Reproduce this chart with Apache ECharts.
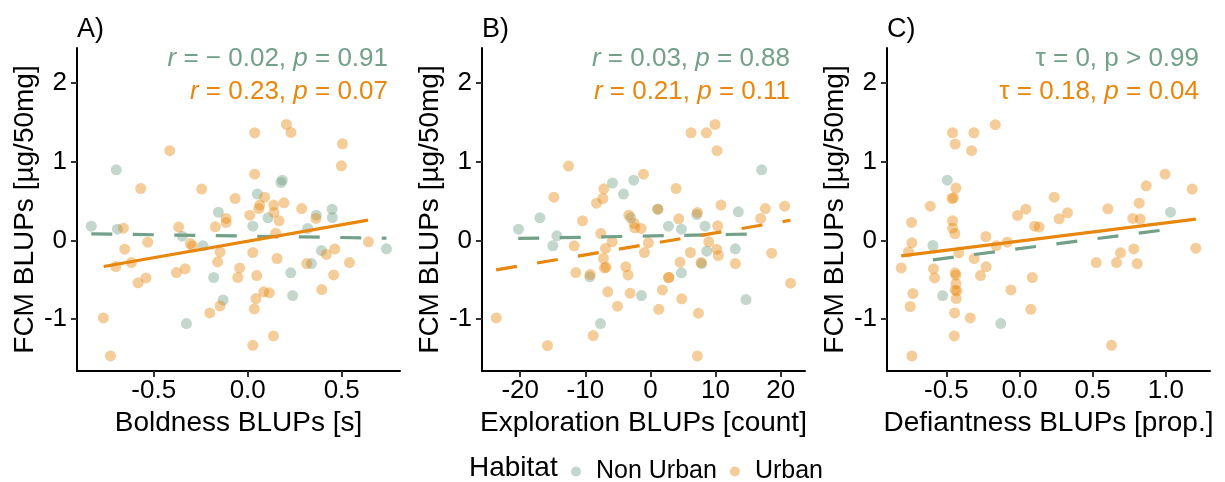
<!DOCTYPE html>
<html>
<head>
<meta charset="utf-8">
<script src="https://cdn.jsdelivr.net/npm/echarts@6/dist/echarts.min.js"></script>
<style>
  html, body {margin: 0; padding: 0; background: #fff;}
  #chart {width: 1225px; height: 482px;}
</style>
</head>
<body>
<div id="chart"></div>
<script>
// --- data ---
const nonUrbanA = [[-0.699,0.895],[-0.832,0.180],[-0.693,0.142],[-0.348,0.053],[-0.238,-0.069],[-0.156,0.358],[-0.181,-0.471],[-0.131,-0.755],[-0.326,-1.056],[0.051,0.587],[0.027,0.180],[0.108,0.286],[0.177,0.734],[0.184,0.763],[0.229,-0.412],[0.239,-0.700],[0.319,0.151],[0.365,0.320],[0.392,-0.129],[0.339,-0.294],[0.449,0.396],[0.450,0.290],[0.738,-0.107]];
const urbanA = [[0.206,1.471],[0.230,1.369],[0.037,1.365],[0.504,1.225],[-0.415,1.137],[0.498,0.946],[0.037,0.840],[-0.569,0.658],[-0.245,0.650],[-0.067,0.531],[0.090,0.548],[0.064,0.447],[0.059,0.404],[0.138,0.447],[0.193,0.476],[0.287,0.404],[0.140,0.354],[0.011,0.320],[0.167,0.248],[-0.115,0.278],[-0.115,0.227],[-0.172,0.172],[-0.661,0.155],[-0.367,0.168],[0.363,0.278],[0.149,0.091],[-0.305,-0.040],[-0.294,-0.070],[-0.532,-0.023],[-0.654,-0.112],[-0.147,-0.150],[0.027,-0.154],[0.642,-0.019],[0.463,-0.108],[0.418,-0.179],[0.156,-0.230],[-0.702,-0.332],[-0.619,-0.281],[-0.160,-0.273],[-0.043,-0.349],[0.314,-0.294],[0.541,-0.281],[-0.379,-0.408],[-0.333,-0.361],[0.048,-0.446],[-0.053,-0.471],[-0.541,-0.476],[-0.583,-0.539],[0.457,-0.438],[0.085,-0.653],[0.115,-0.666],[0.044,-0.738],[0.394,-0.624],[-0.147,-0.831],[-0.202,-0.920],[0.035,-0.870],[-0.768,-0.984],[0.137,-1.212],[0.027,-1.331],[-0.730,-1.466]];
const nonUrbanB = [[-20.26,0.142],[-16.98,0.286],[-14.37,0.058],[-14.99,-0.069],[-5.83,0.727],[-4.14,0.587],[-2.56,0.763],[-3.02,0.286],[-9.31,-0.463],[-7.67,-1.056],[-1.38,-0.700],[1.13,0.396],[2.76,0.180],[4.76,0.142],[7.11,0.328],[8.39,0.180],[8.64,-0.137],[7.88,-0.294],[4.76,-0.412],[13.50,0.362],[13.04,-0.107],[14.68,-0.751],[17.08,0.895]];
const urbanB = [[9.92,1.471],[6.24,1.365],[8.59,1.365],[10.23,1.137],[-12.58,0.942],[-1.07,0.840],[-7.16,0.654],[-7.31,0.531],[-8.29,0.472],[-14.83,0.548],[3.94,0.658],[10.84,0.447],[17.65,0.404],[20.61,0.434],[-10.43,0.248],[-3.32,0.320],[-2.51,0.214],[-2.40,0.159],[-1.43,0.151],[-7.62,0.087],[1.13,0.396],[4.35,0.273],[7.21,0.354],[10.33,0.185],[16.93,0.278],[-11.71,-0.069],[-5.88,-0.019],[-6.91,-0.103],[-0.31,-0.031],[-0.92,-0.154],[-7.21,-0.230],[6.14,-0.154],[8.95,-0.019],[10.18,-0.112],[10.43,-0.192],[18.62,-0.163],[-11.46,-0.408],[-9.26,-0.433],[-7.06,-0.349],[-6.80,-0.340],[-3.79,-0.336],[-3.43,-0.438],[4.55,-0.277],[7.77,-0.281],[13.04,-0.294],[21.53,-0.543],[2.81,-0.471],[2.81,-0.471],[1.84,-0.628],[-6.55,-0.653],[-3.12,-0.670],[4.81,-0.742],[-5.06,-0.835],[1.28,-0.874],[7.37,-0.924],[-23.68,-0.984],[-8.80,-1.208],[-15.81,-1.335],[7.21,-1.466]];
const nonUrbanC = [[-0.494,0.764],[-0.592,-0.065],[-0.526,-0.700],[-0.128,-1.056],[1.032,0.358]];
const urbanC = [[-0.458,1.365],[-0.312,1.365],[-0.166,1.467],[-0.440,1.221],[-0.328,1.137],[-0.435,0.663],[-0.451,0.540],[-0.462,0.531],[-0.610,0.434],[-0.738,0.227],[-0.458,0.248],[-0.458,0.155],[-0.442,0.087],[-0.230,0.049],[-0.736,-0.031],[-0.759,-0.146],[-0.415,-0.158],[-0.159,-0.069],[-0.084,-0.023],[-0.014,0.316],[0.043,0.396],[0.103,0.180],[0.134,0.168],[0.237,0.548],[0.271,0.273],[0.328,0.349],[0.604,0.400],[0.818,0.472],[0.866,0.692],[0.995,0.840],[1.180,0.650],[0.774,0.278],[0.825,0.270],[-0.809,-0.349],[-0.588,-0.361],[-0.581,-0.476],[-0.310,-0.230],[-0.228,-0.336],[-0.267,-0.446],[0.087,-0.471],[-0.440,-0.412],[-0.435,-0.442],[-0.435,-0.548],[-0.440,-0.632],[-0.428,-0.641],[-0.433,-0.738],[-0.059,-0.628],[-0.729,-0.675],[-0.747,-0.839],[-0.444,-0.920],[-0.337,-0.984],[0.077,-0.874],[0.524,-0.281],[0.663,-0.281],[0.690,-0.158],[0.781,-0.108],[0.804,-0.294],[1.205,-0.099],[-0.446,-1.212],[-0.736,-1.466],[0.629,-1.331]];

// fitted lines (end points)
const fitNonUrbanA = [[-0.832,0.083],[0.738,0.028]];
const fitUrbanA = [[-0.766,-0.332],[0.640,0.256]];
const fitNonUrbanB = [[-20.3,0.024],[17.1,0.083]];
const fitUrbanB = [[-23.7,-0.374],[21.5,0.255]];
const fitNonUrbanC = [[-0.592,-0.247],[1.032,0.143]];
const fitUrbanC = [[-0.809,-0.196],[1.205,0.269]];

const yTicks = [-1, 0, 1, 2];
const xTicksA = [-0.5, 0, 0.5];
const xTicksB = [-20, -10, 0, 10, 20];
const xTicksC = [-0.5, 0, 0.5, 1];

const tags = ['A)', 'B)', 'C)'];
const xTitles = ['Boldness BLUPs [s]', 'Exploration BLUPs [count]', 'Defiantness BLUPs [prop.]'];
const statsNonUrban = ['{i|r} = − 0.02, {i|p} = 0.91', '{i|r} = 0.03, {i|p} = 0.88', 'τ = 0, p > 0.99'];
const statsUrban = ['{i|r} = 0.23, {i|p} = 0.07', '{i|r} = 0.21, {i|p} = 0.11', 'τ = 0.18, {i|p} = 0.04'];

const GREEN = '#73A089';
const ORANGE = '#E8870E';
const FONT = 'Liberation Sans, Arial, Helvetica, sans-serif';

const chart = echarts.init(document.getElementById('chart'));

const panels = [
  {left: 77, right: 400, xMin: -0.908, xMax: 0.81, ticks: xTicksA, fmt: v => v.toFixed(1),
   nu: nonUrbanA, u: urbanA, fitNu: fitNonUrbanA, fitU: fitUrbanA, dashU: false, textRight: 388},
  {left: 482, right: 805, xMin: -25.87, xMax: 23.74, ticks: xTicksB, fmt: v => String(v),
   nu: nonUrbanB, u: urbanB, fitNu: fitNonUrbanB, fitU: fitUrbanB, dashU: true, textRight: 790},
  {left: 887, right: 1210, xMin: -0.906, xMax: 1.302, ticks: xTicksC, fmt: v => v.toFixed(1),
   nu: nonUrbanC, u: urbanC, fitNu: fitNonUrbanC, fitU: fitUrbanC, dashU: false, textRight: 1199}
];

const TOP = 48, BOTTOM = 371;
const grid = [], xAxis = [], yAxis = [], series = [], graphic = [];

panels.forEach((p, i) => {
  grid.push({left: p.left, top: TOP, width: p.right - p.left, height: BOTTOM - TOP});
  xAxis.push({
    type: 'value', gridIndex: i, min: p.xMin, max: p.xMax,
    name: xTitles[i], nameLocation: 'middle', nameGap: 36,
    nameTextStyle: {fontSize: 28, color: '#000', fontFamily: FONT},
    axisLine: {show: true, onZero: false, lineStyle: {color: '#000', width: 2}},
    axisTick: {show: true, customValues: p.ticks, length: 6, lineStyle: {color: '#333', width: 2}},
    axisLabel: {customValues: p.ticks, formatter: p.fmt, fontSize: 26, color: '#000', margin: 7, fontFamily: FONT},
    splitLine: {show: false}
  });
  yAxis.push({
    type: 'value', gridIndex: i, min: -1.657, max: 2.44,
    name: 'FCM BLUPs [µg/50mg]', nameLocation: 'middle', nameGap: 38,
    nameTextStyle: {fontSize: 28, color: '#000', fontFamily: FONT},
    axisLine: {show: true, onZero: false, lineStyle: {color: '#000', width: 2}},
    axisTick: {show: true, customValues: yTicks, length: 6, lineStyle: {color: '#333', width: 2}},
    axisLabel: {customValues: yTicks, fontSize: 26, color: '#000', margin: 10, fontFamily: FONT},
    splitLine: {show: false}
  });
  series.push({
    name: 'Non Urban', type: 'scatter', xAxisIndex: i, yAxisIndex: i, data: p.nu,
    symbolSize: 11, itemStyle: {color: GREEN, opacity: 0.42}, silent: true
  });
  series.push({
    name: 'Urban', type: 'scatter', xAxisIndex: i, yAxisIndex: i, data: p.u,
    symbolSize: 11, itemStyle: {color: ORANGE, opacity: 0.42}, silent: true
  });
  series.push({
    name: 'fitNu' + i, type: 'line', xAxisIndex: i, yAxisIndex: i, data: p.fitNu,
    symbol: 'none', silent: true, lineStyle: {color: GREEN, width: 3.2, type: [21, 20.5]}
  });
  series.push({
    name: 'fitU' + i, type: 'line', xAxisIndex: i, yAxisIndex: i, data: p.fitU,
    symbol: 'none', silent: true, lineStyle: {color: ORANGE, width: 3.2, type: p.dashU ? [21, 20.5] : 'solid'}
  });
  graphic.push({
    type: 'text', left: p.left, top: 16,
    style: {text: tags[i], fontSize: 27, fill: '#000', fontFamily: FONT}
  });
  graphic.push({
    type: 'text', x: p.textRight, y: 59,
    style: {text: statsNonUrban[i], fontSize: 26, fill: GREEN, fontFamily: FONT, align: 'right', verticalAlign: 'middle',
      rich: {i: {fontStyle: 'italic', fontSize: 26, fill: GREEN, fontFamily: FONT}}}
  });
  graphic.push({
    type: 'text', x: p.textRight, y: 92,
    style: {text: statsUrban[i], fontSize: 26, fill: ORANGE, fontFamily: FONT, align: 'right', verticalAlign: 'middle',
      rich: {i: {fontStyle: 'italic', fontSize: 26, fill: ORANGE, fontFamily: FONT}}}
  });
});

graphic.push({
  type: 'text', x: 469, y: 468,
  style: {text: 'Habitat', fontSize: 28, fill: '#000', fontFamily: FONT, align: 'left', verticalAlign: 'middle'}
});

chart.setOption({
  animation: false,
  grid, xAxis, yAxis, series, graphic,
  legend: {
    left: 566, top: 454, itemWidth: 30, itemHeight: 10, itemGap: 13, icon: 'circle',
    selectedMode: false,
    textStyle: {fontSize: 25, color: '#000', fontFamily: FONT},
    data: [
      {name: 'Non Urban', itemStyle: {color: GREEN, opacity: 0.42}},
      {name: 'Urban', itemStyle: {color: ORANGE, opacity: 0.42}}
    ]
  }
});
</script>
</body>
</html>
